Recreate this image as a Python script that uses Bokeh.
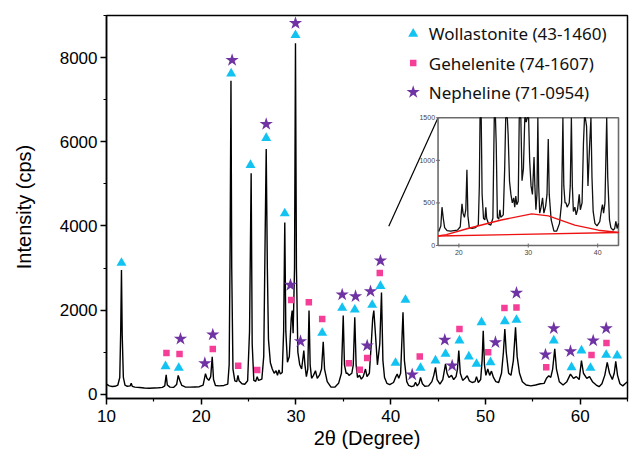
import numpy as np
from bokeh.plotting import figure
from bokeh.models import Range1d, FixedTicker
from bokeh.core.properties import value
from bokeh.embed import file_html
from bokeh.resources import INLINE

# ---------------- data ----------------
two_theta = [
    10.0, 10.3, 10.6, 10.9, 11.2, 11.4, 11.5, 11.58, 11.66, 11.78,
    11.95, 12.2, 12.5, 12.61, 12.72, 13.0, 13.5, 14.0, 14.5, 15.0,
    15.5, 15.9, 16.15, 16.30, 16.42, 16.7, 17.1, 17.4, 17.57, 17.75,
    17.95, 18.3, 18.8, 19.3, 19.8, 20.2, 20.45, 20.6, 20.8, 21.0,
    21.16, 21.3, 21.5, 21.9, 22.4, 22.8, 22.95, 23.05, 23.14, 23.22,
    23.35, 23.55, 23.75, 23.88, 24.0, 24.3, 24.6, 24.9, 25.1, 25.27,
    25.38, 25.55, 25.75, 25.91, 26.05, 26.4, 26.6, 26.75, 26.86, 26.98,
    27.1, 27.3, 27.5, 27.7, 27.9, 28.05, 28.2, 28.35, 28.55, 28.7,
    28.82, 28.93, 29.1, 29.3, 29.5, 29.6, 29.7, 29.85, 29.95, 30.05,
    30.2, 30.4, 30.6, 30.83, 30.95, 31.1, 31.25, 31.38, 31.5, 31.65,
    31.85, 32.06, 32.25, 32.5, 32.7, 32.88, 33.02, 33.3, 33.7, 34.1,
    34.5, 34.8, 34.99, 35.12, 35.3, 35.44, 35.6, 35.9, 36.05, 36.21,
    36.35, 36.5, 36.71, 36.9, 37.1, 37.34, 37.5, 37.75, 37.95, 38.1,
    38.22, 38.4, 38.6, 38.85, 39.03, 39.18, 39.35, 39.6, 39.9, 40.3,
    40.55, 40.69, 40.85, 41.05, 41.3, 41.45, 41.7, 41.9, 42.2, 42.45,
    42.62, 42.8, 43.0, 43.15, 43.35, 43.6, 44.0, 44.35, 44.55, 44.73,
    44.9, 45.2, 45.5, 45.79, 45.95, 46.15, 46.42, 46.65, 46.9, 47.05,
    47.19, 47.35, 47.6, 47.85, 48.08, 48.3, 48.6, 48.9, 49.06, 49.25,
    49.5, 49.65, 49.77, 49.9, 50.05, 50.25, 50.45, 50.64, 50.85, 51.1,
    51.4, 51.7, 51.9, 52.05, 52.2, 52.45, 52.7, 52.95, 53.18, 53.35,
    53.6, 53.9, 54.3, 54.8, 55.3, 55.81, 56.2, 56.45, 56.69, 56.9,
    57.1, 57.32, 57.5, 57.8, 58.2, 58.6, 58.98, 59.3, 59.6, 59.9,
    60.14, 60.35, 60.7, 60.99, 61.3, 61.7, 62.0, 62.3, 62.6, 62.86,
    63.1, 63.4, 63.6, 63.76, 63.95, 64.2, 64.5, 64.8, 65.0,
]
intensity = [
    240, 200, 185, 190, 220, 400, 1500, 2950, 1400, 400,
    220, 190, 200, 260, 190, 170, 160, 150, 145, 150,
    155, 165, 200, 460, 220, 170, 165, 230, 450, 320,
    210, 175, 170, 175, 180, 220, 490, 380, 330, 420,
    890, 350, 210, 200, 210, 240, 700, 3500, 7450, 3000,
    600, 320, 300, 450, 320, 250, 240, 320, 1500, 5250,
    1200, 330, 310, 420, 330, 360, 900, 3800, 5830, 3000,
    1300, 750, 600, 500, 560, 450, 580, 480, 520, 1500,
    4080, 1500, 760, 900, 1800, 1990, 1450, 3000, 8340, 3000,
    1000, 700, 600, 1040, 700, 420, 600, 1990, 700, 380,
    450, 560, 380, 460, 600, 1250, 600, 300, 170, 170,
    260, 500, 1870, 700, 500, 500, 450, 500, 700, 1830,
    700, 400, 450, 360, 420, 600, 420, 500, 1200, 1800,
    1990, 1400, 700, 1200, 2420, 800, 400, 260, 230, 280,
    420, 480, 380, 500, 1950, 800, 300, 210, 180, 200,
    285, 200, 260, 400, 250, 190, 200, 300, 450, 640,
    350, 240, 350, 720, 500, 400, 450, 350, 420, 600,
    1040, 500, 330, 380, 440, 320, 280, 300, 420, 280,
    350, 800, 1510, 700, 450, 600, 450, 550, 400, 300,
    280, 500, 1000, 1550, 1000, 500, 450, 800, 1590, 900,
    500, 300, 220, 200, 220, 250, 260, 380, 440, 400,
    600, 1080, 600, 300, 220, 300, 480, 380, 420, 350,
    800, 500, 380, 420, 300, 220, 180, 250, 450, 760,
    500, 350, 500, 780, 450, 250, 200, 260, 300,
]

wollastonite_x = [11.58, 16.23, 17.63, 23.16, 25.20, 26.86, 28.82, 29.95, 32.77, 34.88,
                  36.21, 38.05, 38.92, 40.51, 41.56, 43.15, 44.73, 45.79, 47.26, 48.25,
                  49.06, 49.59, 50.54, 52.05, 53.28, 57.22, 59.09, 60.14, 61.09, 62.75, 63.91]
wollastonite_y = [3120, 665, 627, 7620, 5446, 6087, 4297, 8532, 1458, 2051,
                  2011, 2122, 2573, 745, 2241, 627, 800, 959, 1275, 895,
                  722, 1709, 760, 1733, 1766, 1275, 641, 1037, 627, 935, 919]

gehlenite_x = [16.33, 17.71, 21.22, 23.90, 25.91, 29.50, 31.36, 32.77, 35.58, 36.74,
               37.52, 38.85, 43.07, 47.26, 50.29, 52.01, 53.28, 56.42, 61.20, 62.78]
gehlenite_y = [983, 959, 1078, 681, 579, 2241, 2184, 1790, 736, 586,
               864, 2882, 895, 1552, 997, 2051, 2065, 641, 935, 1220]

nepheline_x = [17.81, 20.38, 21.22, 23.26, 26.86, 29.42, 29.95, 30.48, 34.88, 36.29,
               37.52, 37.87, 38.92, 42.27, 45.71, 46.49, 51.06, 53.28, 56.34, 57.22,
               58.98, 61.38, 62.75]
nepheline_y = [1315, 736, 1417, 7939, 6419, 2597, 8817, 1258, 2367, 2327,
               1156, 2445, 3174, 468, 1291, 681, 1234, 2407, 942, 1567,
               1021, 1275, 1567]

legend_labels = ["Wollastonite (43-1460)", "Gehelenite (74-1607)", "Nepheline (71-0954)"]

x_ticks = [10, 20, 30, 40, 50, 60]
x_minor = [15, 25, 35, 45, 55, 65]
y_ticks = [0, 2000, 4000, 6000, 8000]
y_minor = [1000, 3000, 5000, 7000, 9000]

inset_x_ticks = [20, 30, 40]
inset_y_ticks = [0, 500, 1000, 1500]
inset_x_lim = [17, 43]
inset_y_lim = [0, 1500]
amorphous_x = [17.0, 18.2, 21.3, 26.1, 30.5, 32.9, 36.7, 40.1, 43.0]
amorphous_y = [112, 128, 200, 300, 372, 348, 240, 180, 152]
baseline_x = [17.0, 43.0]
baseline_y = [112, 152]

# ---------------- style ----------------
CYAN = "#12C3F2"
PINK = "#F53E97"
PURPLE = "#7033A3"
FONT = "Liberation Sans"
LFONT = "Noto Sans"

FW, FH = 521, 383
p = figure(frame_width=FW, frame_height=FH,
           x_range=Range1d(10, 65), y_range=Range1d(-100, 9000),
           output_backend="svg", toolbar_location=None,
           min_border_left=106, min_border_right=3, min_border_top=15, min_border_bottom=59)
p.grid.visible = False
p.outline_line_color = "black"
p.outline_line_width = 1.5
p.background_fill_color = "white"
p.border_fill_color = "white"

for ax in (p.xaxis[0], p.yaxis[0]):
    ax.axis_line_width = 1.5
    ax.major_tick_line_width = 1.5
    ax.minor_tick_line_width = 1.2
    ax.major_tick_out = 6
    ax.major_tick_in = 0
    ax.minor_tick_out = 3
    ax.minor_tick_in = 0
    ax.major_label_text_font = FONT
    ax.major_label_text_font_size = "17px"
    ax.major_label_text_color = "black"
    ax.axis_label_text_font = FONT
    ax.axis_label_text_font_size = "20px"
    ax.axis_label_text_font_style = "normal"
    ax.axis_label_text_color = "black"

p.xaxis.ticker = FixedTicker(ticks=x_ticks, minor_ticks=x_minor)
p.yaxis.ticker = FixedTicker(ticks=y_ticks, minor_ticks=y_minor)
p.xaxis.axis_label = "2θ (Degree)"
p.yaxis.axis_label = "Intensity (cps)"
p.yaxis.major_label_standoff = 3
p.yaxis.axis_label_standoff = 22
p.xaxis.axis_label_standoff = 2

# main pattern
p.line(two_theta, intensity, line_color="black", line_width=1.4)

p.scatter(wollastonite_x, wollastonite_y, marker="triangle", size=10, fill_color=CYAN, line_color=None)
p.scatter(gehlenite_x, gehlenite_y, marker="square", size=6.5, fill_color=PINK, line_color=None)
p.scatter(nepheline_x, nepheline_y, marker="star", size=14, fill_color=PURPLE, line_color=None)

# ---------------- inset (own ranges placed inside the frame) ----------------
# inset box occupies main-data x 45.0..64.05, y 3535..6570
ix0, ix1, iy0, iy1 = 45.0, 64.05, 3535.0, 6570.0
sx = (ix1 - ix0) / (inset_x_lim[1] - inset_x_lim[0])
sy = (iy1 - iy0) / (inset_y_lim[1] - inset_y_lim[0])
p.extra_x_ranges["ix"] = Range1d(inset_x_lim[0] - (ix0 - 10) / sx, inset_x_lim[0] + (65 - ix0) / sx)
p.extra_y_ranges["iy"] = Range1d(inset_y_lim[0] - (iy0 + 100) / sy, inset_y_lim[0] + (9000 - iy0) / sy)

# connector line from the main pattern to the inset corner
p.line([39.8, ix0], [3990, iy1], line_color="black", line_width=1.2)

p.quad(left=[inset_x_lim[0]], right=[inset_x_lim[1]], bottom=[inset_y_lim[0]], top=[inset_y_lim[1]],
       fill_color="white", line_color="#6b6b6b", line_width=1.6,
       x_range_name="ix", y_range_name="iy")

tt = np.array(two_theta, dtype=float)
ii = np.array(intensity, dtype=float)
m = (tt >= inset_x_lim[0]) & (tt <= inset_x_lim[1])
p.line(tt[m], np.minimum(ii[m], inset_y_lim[1]), line_color="#111111", line_width=1.3,
       x_range_name="ix", y_range_name="iy")

p.line(amorphous_x, amorphous_y, line_color="#ee1111", line_width=1.4, x_range_name="ix", y_range_name="iy")
p.line(baseline_x, baseline_y, line_color="#ee1111", line_width=1.4, x_range_name="ix", y_range_name="iy")

p.scatter([inset_x_lim[0]] * len(inset_y_ticks), inset_y_ticks, marker="dash", size=4,
          line_color="#6b6b6b", line_width=1, x_range_name="ix", y_range_name="iy")
p.scatter(inset_x_ticks, [inset_y_lim[0]] * len(inset_x_ticks), marker="dash", angle=np.pi / 2, size=4,
          line_color="#6b6b6b", line_width=1, x_range_name="ix", y_range_name="iy")

p.text([inset_x_lim[0]] * len(inset_y_ticks), inset_y_ticks, text=[str(v) for v in inset_y_ticks],
       text_font=value(FONT), text_font_size="7px", text_color="#444444",
       text_align="right", text_baseline="middle", x_offset=-3,
       x_range_name="ix", y_range_name="iy")
p.text(inset_x_ticks, [inset_y_lim[0]] * len(inset_x_ticks), text=[str(v) for v in inset_x_ticks],
       text_font=value(FONT), text_font_size="7px", text_color="#444444",
       text_align="center", text_baseline="top", y_offset=4,
       x_range_name="ix", y_range_name="iy")

# ---------------- legend (pixel ranges of the frame) ----------------
p.extra_x_ranges["px"] = Range1d(0, FW)
p.extra_y_ranges["py"] = Range1d(0, FH)
leg_x = 306.7
leg_y = [364.7, 335.5, 306.3]
p.scatter([leg_x], [leg_y[0]], marker="triangle", size=10, fill_color=CYAN, line_color=None,
          x_range_name="px", y_range_name="py")
p.scatter([leg_x], [leg_y[1]], marker="square", size=6.5, fill_color=PINK, line_color=None,
          x_range_name="px", y_range_name="py")
p.scatter([leg_x], [leg_y[2]], marker="star", size=14, fill_color=PURPLE, line_color=None,
          x_range_name="px", y_range_name="py")
p.text([leg_x + 15.6] * 3, leg_y, text=legend_labels,
       text_font=value(LFONT), text_font_size="17px", text_color="#111111",
       text_align="left", text_baseline="middle",
       x_range_name="px", y_range_name="py")

open("out.html", "w").write(file_html(p, INLINE))
